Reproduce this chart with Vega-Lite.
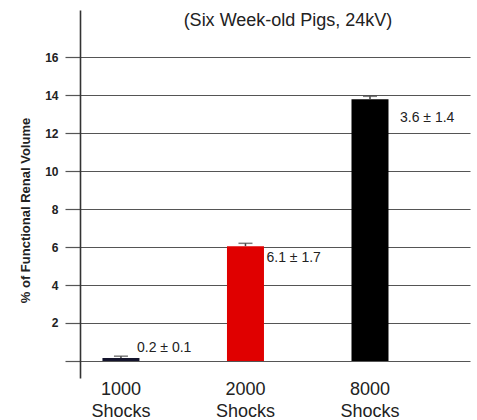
{
  "$schema": "https://vega.github.io/schema/vega-lite/v6.json",
  "width": 390,
  "height": 368,
  "autosize": "none",
  "padding": {"left": 80, "top": 10, "right": 7, "bottom": 42},
  "background": "white",
  "config": {
    "view": {"stroke": null},
    "font": "Liberation Sans"
  },
  "title": {
    "text": "(Six Week-old Pigs, 24kV)",
    "fontSize": 18,
    "fontWeight": "normal",
    "font": "Liberation Sans",
    "color": "#222",
    "anchor": "middle",
    "offset": -20,
    "dx": 13
  },
  "data": {
    "values": [
      {"shocks": "1000", "value": 0.15, "upper": 0.25, "label": "0.2 ± 0.1"},
      {"shocks": "2000", "value": 6.05, "upper": 6.2, "label": "6.1 ± 1.7"},
      {"shocks": "8000", "value": 13.8, "upper": 13.95, "label": "3.6 ± 1.4"}
    ]
  },
  "encoding": {
    "x": {
      "field": "shocks",
      "type": "nominal",
      "sort": null,
      "scale": {"paddingInner": 0.7, "paddingOuter": 0.416, "align": 0.215},
      "axis": {
        "title": null,
        "domain": false,
        "ticks": false,
        "labelAngle": 0,
        "labelFontSize": 18,
        "labelColor": "#222",
        "labelPadding": 2,
        "labelLineHeight": 22,
        "labelExpr": "[datum.label, 'Shocks']"
      }
    }
  },
  "layer": [
    {
      "mark": {"type": "bar", "width": 37},
      "encoding": {
        "y": {
          "field": "value",
          "type": "quantitative",
          "scale": {"domain": [-0.9, 18.5], "nice": false, "zero": false},
          "axis": {
            "title": "% of Functional Renal Volume",
            "titleFontSize": 13,
            "titleFontWeight": "bold",
            "titleColor": "#222",
            "titleX": -55,
            "titleY": 200,
            "titleAngle": -90,
            "titleAlign": "center",
            "titleBaseline": "middle",
            "values": [0, 2, 4, 6, 8, 10, 12, 14, 16],
            "labelExpr": "datum.value == 0 ? '' : datum.label",
            "labelFontSize": 12,
            "labelFontWeight": "bold",
            "labelColor": "#222",
            "labelPadding": 7,
            "tickSize": 15,
            "tickColor": "#555",
            "tickWidth": 1.2,
            "grid": true,
            "gridColor": "#555",
            "gridWidth": 1.2,
            "domainColor": "#333",
            "domainWidth": 1.6
          }
        },
        "color": {
          "field": "shocks",
          "type": "nominal",
          "scale": {"domain": ["1000", "2000", "8000"], "range": ["#14142c", "#e00000", "#000000"]},
          "legend": null
        }
      }
    },
    {
      "mark": {"type": "rule", "color": "#444", "strokeWidth": 1.5},
      "encoding": {
        "y": {"field": "value", "type": "quantitative"},
        "y2": {"field": "upper"}
      }
    },
    {
      "mark": {"type": "tick", "color": "#444", "size": 14, "thickness": 1.5, "orient": "horizontal"},
      "encoding": {
        "y": {"field": "upper", "type": "quantitative"}
      }
    },
    {
      "transform": [{"filter": "datum.shocks == '1000'"}],
      "mark": {"type": "text", "align": "left", "baseline": "middle", "fontSize": 14, "color": "#222", "dx": 16, "dy": -10},
      "encoding": {
        "y": {"field": "value", "type": "quantitative"},
        "text": {"field": "label"}
      }
    },
    {
      "transform": [{"filter": "datum.shocks == '2000'"}],
      "mark": {"type": "text", "align": "left", "baseline": "middle", "fontSize": 14, "color": "#222", "dx": 21, "dy": 12},
      "encoding": {
        "y": {"field": "value", "type": "quantitative"},
        "text": {"field": "label"}
      }
    },
    {
      "transform": [{"filter": "datum.shocks == '8000'"}],
      "mark": {"type": "text", "align": "left", "baseline": "middle", "fontSize": 14, "color": "#222", "dx": 30, "dy": 19},
      "encoding": {
        "y": {"field": "value", "type": "quantitative"},
        "text": {"field": "label"}
      }
    }
  ]
}
